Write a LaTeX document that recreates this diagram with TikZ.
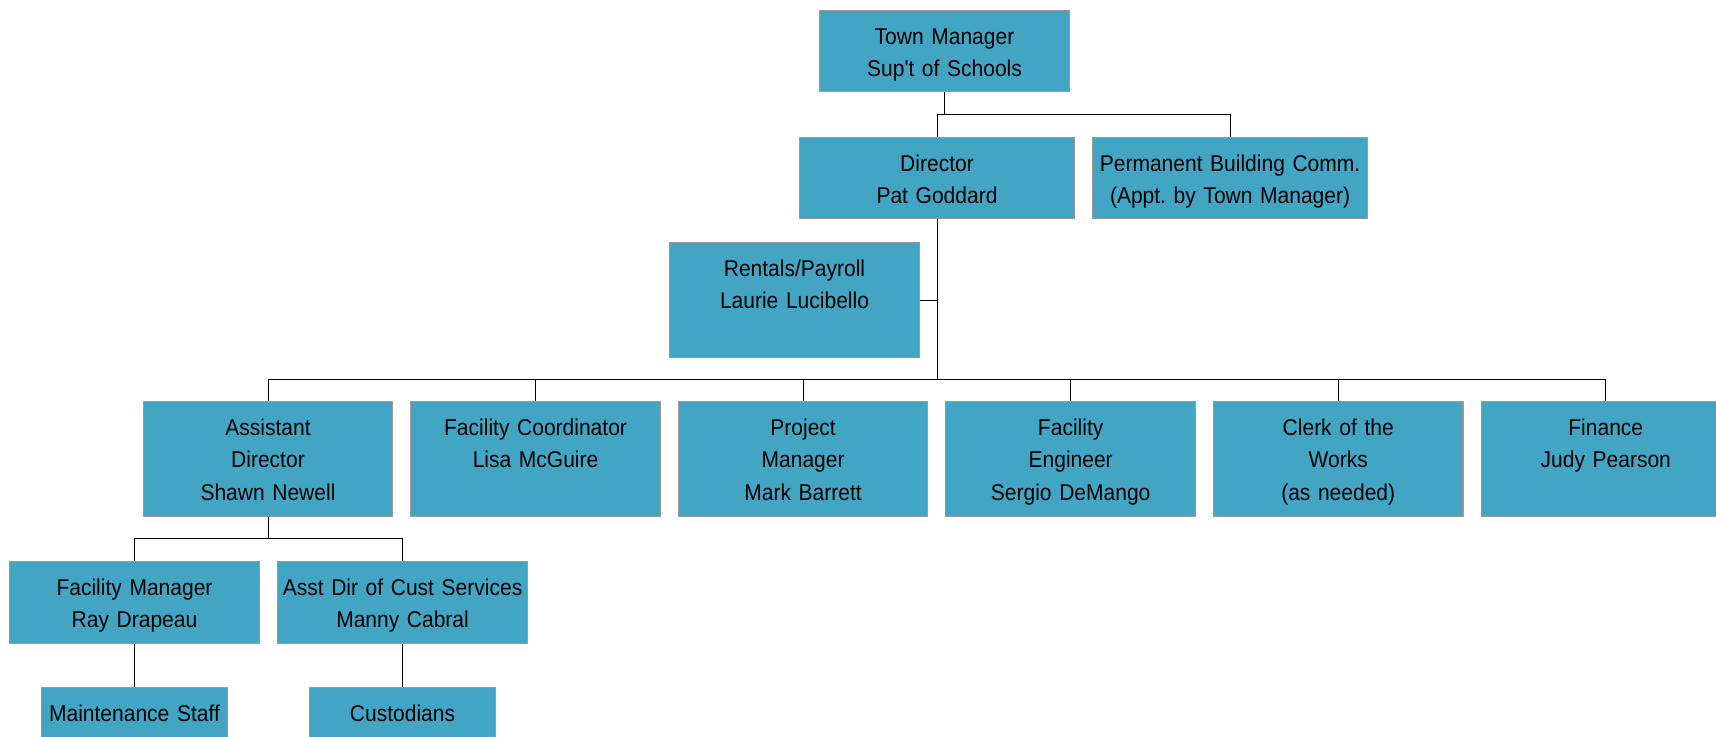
\documentclass[tikz,border=0pt]{standalone}
\usepackage{fontspec}
\newfontfamily\unitfont{Liberation Sans}[FakeStretch=0.92]
\usepackage{xcolor}
\usepackage{tikz}
\usetikzlibrary{positioning}

\definecolor{unitfill}{HTML}{42A5C4}
\definecolor{unitedge}{HTML}{9A9A9A}

\begin{document}
\begin{tikzpicture}
\tikzstyle{unit} = [rectangle, draw=unitedge, line width=0.6pt, fill=unitfill, text width=4.99cm, align=center, inner sep=0pt, text height=19.3pt, text depth=27.2pt, font=\unitfont\frenchspacing\fontsize{13}{18.4}\selectfont]
\tikzstyle{tallunit} = [unit, text depth=45.9pt]
\tikzstyle{link} = [draw=black, line width=0.55pt]

\useasboundingbox (0,0) rectangle (34.32,-14.72);

\node (town) [unit] at (18.89,-1.02) {Town Manager\\Sup't of Schools};
\node (director) [unit, text width=5.5cm] at (18.74,-3.56) {Director\\Pat Goddard};
\node (permcomm) [unit, text width=5.5cm, right=0.34cm of director] {Permanent Building Comm.\\(Appt. by Town Manager)};
\node (rentals) [tallunit] at (15.89,-6.0) {Rentals/Payroll\\Laurie Lucibello};

\node (asstdir) [tallunit] at (5.36,-9.18) {Assistant\\Director\\Shawn Newell};
\node (faccoord) [tallunit, right=0.34cm of asstdir] {Facility Coordinator\\Lisa McGuire};
\node (projmgr) [tallunit, right=0.34cm of faccoord] {Project\\Manager\\Mark Barrett};
\node (faceng) [tallunit, right=0.34cm of projmgr] {Facility\\Engineer\\Sergio DeMango};
\node (clerk) [tallunit, right=0.34cm of faceng] {Clerk of the\\Works\\(as needed)};
\node (finance) [tallunit, right=0.34cm of clerk] {Finance\\Judy Pearson};

\node (facmgr) [unit] at (2.69,-12.05) {Facility Manager\\Ray Drapeau};
\node (custsvc) [unit, right=0.35cm of facmgr] {Asst Dir of Cust Services\\Manny Cabral};
\node (maint) [unit, text width=3.72cm, below=0.87cm of facmgr] {Maintenance Staff};
\node (custod) [unit, text width=3.72cm, below=0.87cm of custsvc] {Custodians};

\coordinate (bus1) at (0,-2.28);
\coordinate (bus3) at (0,-7.59);
\coordinate (bus4) at (0,-10.77);

\draw[link] (town.south) -- (town.south |- bus1);
\draw[link] (director.north) |- (permcomm.north |- bus1) -- (permcomm.north);
\draw[link] (director.south) -- (director.south |- bus3);
\draw[link] (rentals.east) -- (rentals.east -| director.south);
\draw[link] (asstdir.north) |- (finance.north |- bus3) -- (finance.north);
\foreach \n in {faccoord, projmgr, faceng, clerk}
  \draw[link] (\n.north) -- (\n.north |- bus3);
\draw[link] (asstdir.south) -- (asstdir.south |- bus4);
\draw[link] (facmgr.north) |- (custsvc.north |- bus4) -- (custsvc.north);
\draw[link] (facmgr.south) -- (maint.north);
\draw[link] (custsvc.south) -- (custod.north);

\end{tikzpicture}
\end{document}
